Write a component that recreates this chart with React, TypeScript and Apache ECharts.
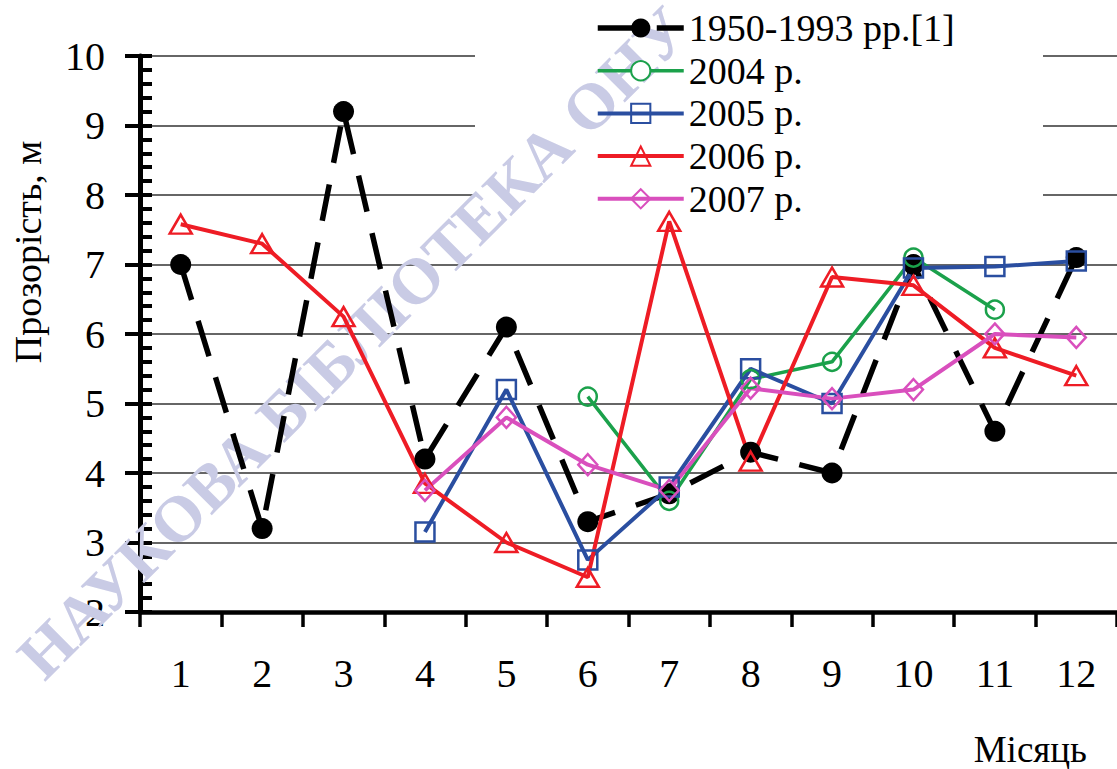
import React, { useEffect, useRef } from "react";
import * as echarts from "echarts";

const months = ["1", "2", "3", "4", "5", "6", "7", "8", "9", "10", "11", "12"];
const seriesNames = ["1950-1993 рр.[1]", "2004 р.", "2005 р.", "2006 р.", "2007 р."];
const s1950 = [7.0, 3.2, 9.2, 4.2, 6.1, 3.3, 3.7, 4.3, 4.0, 7.0, 4.6, 7.1];
const s2004 = [null, null, null, null, null, 5.1, 3.6, 5.35, 5.6, 7.1, 6.35, null];
const s2005 = [null, null, null, 3.15, 5.2, 2.75, 3.8, 5.5, 5.0, 6.95, 6.97, 7.05];
const s2006 = [7.58, 7.3, 6.25, 3.85, 3.0, 2.5, 7.62, 4.17, 6.82, 6.7, 5.8, 5.4];
const s2007 = [null, null, null, 3.75, 4.8, 4.12, 3.75, 5.22, 5.07, 5.2, 6.0, 5.95];
const yTicks = { min: 2, max: 10, interval: 1 };
const xName = "Місяць";
const yName = "Прозорість, м";
const watermark = "НАУКОВА БІБЛІОТЕКА ОНУ";

const FONT = "Liberation Serif";

export default function App() {
  const ref = useRef<HTMLDivElement>(null);
  useEffect(() => {
    document.body.style.margin = "0";
    const chart = echarts.init(ref.current!, null, { renderer: "svg" });
    const hollow = (color: string, symbol: string, size: any, lw: number) => ({
      type: "line",
      symbol,
      symbolSize: size,
      connectNulls: false,
      lineStyle: { color, width: lw, type: "solid" },
      itemStyle: { color: "rgba(255,255,255,0)", borderColor: color, borderWidth: 2.5 },
    });
    chart.setOption({
      animation: false,
      backgroundColor: "#ffffff",
      textStyle: { fontFamily: FONT },
      grid: { left: 140, right: 0, top: 56, bottom: 157, containLabel: false },
      legend: {
        orient: "vertical",
        left: 590,
        top: 4,
        itemWidth: 86,
        itemHeight: 24,
        itemGap: 4.7,
        lineStyle: { width: "inherit", type: "inherit" },
        textStyle: { fontFamily: FONT, fontSize: 38, color: "#000" },
        data: [
          { name: seriesNames[0] },
          { name: seriesNames[1], itemStyle: { color: "#ffffff" } },
          { name: seriesNames[2] },
          { name: seriesNames[3] },
          { name: seriesNames[4] },
        ],
      },
      xAxis: {
        type: "category",
        data: months,
        axisLine: { lineStyle: { color: "#000", width: 4.5 } },
        axisTick: { show: true, length: 15, lineStyle: { color: "#000", width: 3.5 } },
        axisLabel: { fontFamily: FONT, fontSize: 40, color: "#000", margin: 41 },
        splitLine: { show: false },
      },
      yAxis: [
        {
          type: "value",
          min: yTicks.min,
          max: yTicks.max,
          interval: yTicks.interval,
          position: "left",
          axisLine: { show: true, lineStyle: { color: "#000", width: 5 } },
          axisTick: { show: true, length: 15, lineStyle: { color: "#000", width: 4 } },
          axisLabel: { fontFamily: FONT, fontSize: 40, color: "#000", margin: 35 },
          splitLine: { show: true, lineStyle: { color: "#333", width: 1.5 } },
        },
        {
          type: "value",
          min: yTicks.min,
          max: yTicks.max,
          interval: yTicks.interval,
          position: "left",
          axisLine: { show: false },
          axisTick: { show: true, inside: true, length: 12, lineStyle: { color: "#000", width: 4 } },
          minorTick: { show: true, splitNumber: 5, length: 12, lineStyle: { color: "#000", width: 4 } },
          axisLabel: { show: false },
          splitLine: { show: false },
        },
      ],
      graphic: [
        { type: "rect", z: 1, shape: { x: 475, y: 0, width: 568, height: 228 }, style: { fill: "#ffffff" } },
        {
          type: "text",
          z: 1,
          x: 52,
          y: 690,
          rotation: Math.PI / 4,
          style: { text: watermark, fill: "#c9cbe5", fontFamily: FONT, fontSize: 65, fontWeight: "bold", textAlign: "left", textVerticalAlign: "bottom" },
        },
        {
          type: "text",
          z: 5,
          x: 1087,
          y: 749,
          style: { text: xName, fill: "#000", fontFamily: FONT, fontSize: 37, textAlign: "right", textVerticalAlign: "middle" },
        },
        {
          type: "text",
          z: 5,
          x: 28,
          y: 252,
          rotation: Math.PI / 2,
          style: { text: yName, fill: "#000", fontFamily: FONT, fontSize: 38, textAlign: "center", textVerticalAlign: "middle" },
        },
      ],
      series: [
        {
          name: seriesNames[0],
          type: "line",
          data: s1950,
          symbol: "circle",
          symbolSize: 21,
          lineStyle: { color: "#000", width: 5.5, type: [37, 22] },
          itemStyle: { color: "#000" },
        },
        { name: seriesNames[1], data: s2004, ...hollow("#1ba14b", "circle", 18, 3.5) },
        { name: seriesNames[2], data: s2005, ...hollow("#2a4ea0", "rect", 19, 4) },
        { name: seriesNames[3], data: s2006, ...hollow("#ee1c25", "triangle", [22, 19], 4) },
        { name: seriesNames[4], data: s2007, ...hollow("#d94fbd", "diamond", [19, 21], 4) },
      ],
    });
    return () => chart.dispose();
  }, []);
  return <div ref={ref} style={{ width: 1117, height: 769 }} />;
}
